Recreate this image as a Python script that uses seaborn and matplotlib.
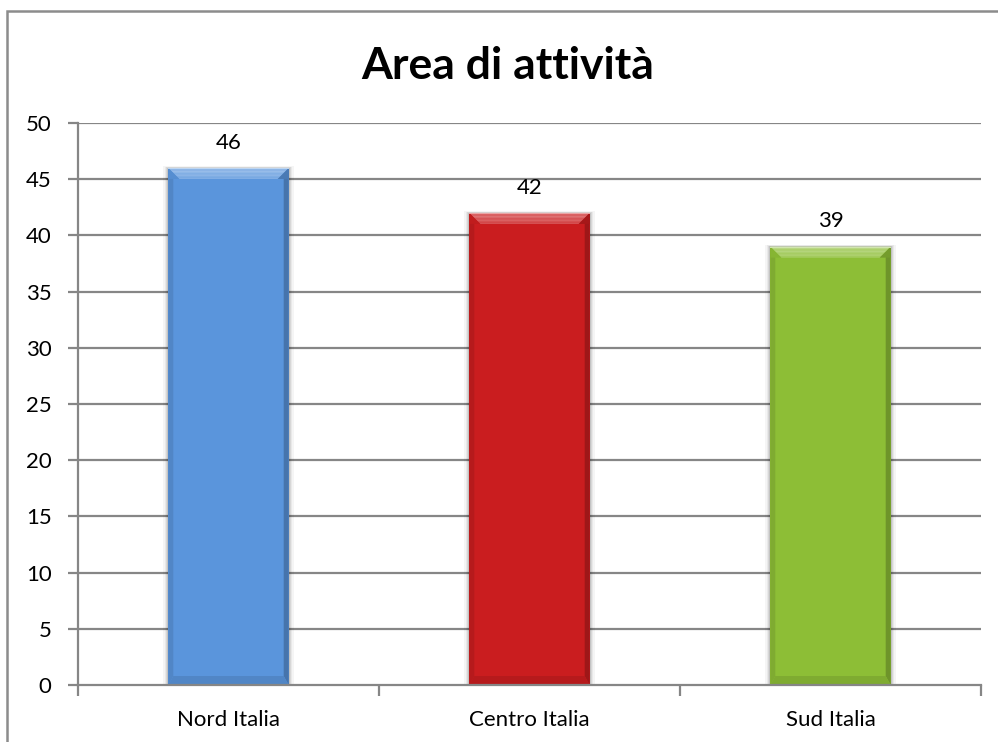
import matplotlib
matplotlib.use("Agg")
import matplotlib.pyplot as plt
import seaborn as sns
import pandas as pd
import numpy as np
from matplotlib.patches import Polygon, Rectangle
from matplotlib.colors import to_rgb

categories = ["Nord Italia", "Centro Italia", "Sud Italia"]
values = [46, 42, 39]
colors = ["#5A95DC", "#CA1D1F", "#8DBE36"]
y_ticks = [0, 5, 10, 15, 20, 25, 30, 35, 40, 45, 50]
title = "Area di attività"

sns.set_theme(style="white")
plt.rcParams["font.family"] = ["Lato", "DejaVu Sans"]

W, H = 998, 742
fig = plt.figure(figsize=(W / 100, H / 100), dpi=100)
ax = fig.add_axes([78 / W, 1 - 685 / H, (981 - 78) / W, (685 - 123) / H])

df = pd.DataFrame({"area": categories, "n": values})
sns.barplot(data=df, x="area", y="n", hue="area", palette=colors,
            width=0.4, legend=False, ax=ax, saturation=1, zorder=3)

ax.set_xlim(-0.5, 2.5)
ax.set_ylim(0, 50)
ax.set_yticks(y_ticks)
ax.set_yticklabels([str(t) for t in y_ticks])
ax.set_xlabel("")
ax.set_ylabel("")

grid_c = "#868686"
for t in y_ticks[1:]:
    ax.axhline(t, color=grid_c, lw=1.6, zorder=1)
for s in ["top", "right"]:
    ax.spines[s].set_visible(False)
for s in ["left", "bottom"]:
    ax.spines[s].set_color(grid_c)
    ax.spines[s].set_linewidth(1.6)
    ax.spines[s].set_zorder(5)

fs = 16
ax.tick_params(axis="y", which="major", length=7, width=1.6, color=grid_c,
               left=True, labelsize=fs, pad=12, labelcolor="black")
# category ticks sit on the boundaries between bars
ax.set_xticks([0, 1, 2])
ax.set_xticklabels(categories)
ax.tick_params(axis="x", which="major", length=0, labelsize=fs, pad=18,
               labelcolor="black")
ax.set_xticks([-0.5, 0.5, 1.5, 2.5], minor=True)
ax.tick_params(axis="x", which="minor", length=8, width=1.6, color=grid_c,
               bottom=True)

fig.text(508 / W, 1 - 66 / H, title, ha="center", va="center",
         fontsize=32, fontweight="bold", color="black")

# bevelled bar faces
fig.canvas.draw()
inv = ax.transData.inverted()


def lighten(c, f):
    r = np.array(to_rgb(c))
    return tuple(r + (1 - r) * f)


def darken(c, f):
    r = np.array(to_rgb(c))
    return tuple(r * (1 - f))


def poly(pts, col, z=4):
    d = inv.transform(np.array(pts))
    ax.add_patch(Polygon(d, closed=True, facecolor=col, edgecolor="none", zorder=z))


for p, c in zip(ax.patches[:len(values)], colors):
    p.set_edgecolor("none")
    bb = p.get_window_extent()
    x0, x1, y0, y1 = bb.x0, bb.x1, bb.y0, bb.y1
    b = 11
    s = 5

    # soft shadow around the bar
    for k, a in [(5, 0.04), (3.5, 0.05), (2, 0.07), (1, 0.09)]:
        poly([(x0 - k, y0), (x1 + k, y0), (x1 + k, y1 + k * 0.4), (x0 - k, y1 + k * 0.4)],
             (0, 0, 0, a), z=2)
    # sides
    poly([(x0, y0), (x0 + s, y0 + 9), (x0 + s, y1 - b), (x0, y1)], darken(c, 0.10))
    poly([(x1, y0), (x1 - s, y0 + 9), (x1 - s, y1 - b), (x1, y1)], darken(c, 0.22))
    # bottom
    poly([(x0, y0), (x1, y0), (x1 - s, y0 + 9), (x0 + s, y0 + 9)], darken(c, 0.10))
    # top bevel, graded from a bright rim
    n = 8
    for i in range(n):
        t0 = i / n
        t1 = (i + 1) / n
        col = lighten(c, 0.42 - 0.2 * t0)
        poly([(x0 + b * t0, y1 - b * t0), (x1 - b * t0, y1 - b * t0),
              (x1 - b * t1, y1 - b * t1), (x0 + b * t1, y1 - b * t1)], col)
    # darker corners of the top bevel
    poly([(x0, y1), (x0 + b, y1 - b), (x0, y1 - b)], darken(c, 0.05))
    poly([(x1, y1), (x1 - b, y1 - b), (x1, y1 - b)], darken(c, 0.18))
    poly([(x0, y1), (x1, y1), (x1, y1 - 1.5), (x0, y1 - 1.5)], lighten(c, 0.6))

# value labels
for i, v in enumerate(values):
    ax.annotate(str(v), (i, v), xytext=(0, 11), textcoords="offset points",
                ha="center", va="bottom", fontsize=fs, color="black", zorder=6)

# chart frame
fig.add_artist(Rectangle((7 / W, -0.1), 1.1, 1 - 11 / H + 0.1, transform=fig.transFigure,
                         fill=False, edgecolor="#8C8C8C", lw=1.8))

fig.savefig("out.png", dpi=100, facecolor="white")
